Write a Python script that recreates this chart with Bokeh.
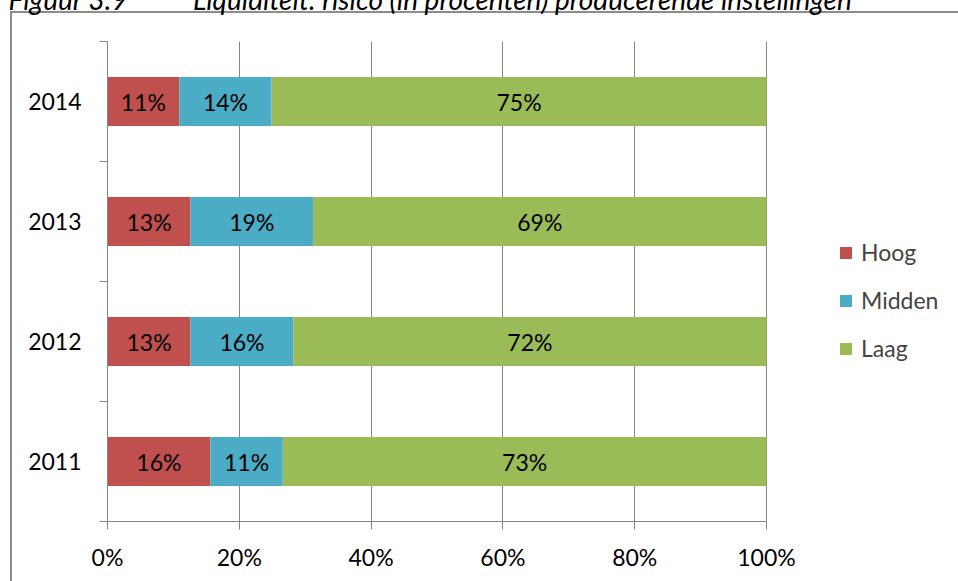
from bokeh.plotting import figure
from bokeh.models import ColumnDataSource, FixedTicker, Legend, LegendItem, Title
from bokeh.core.properties import value
from bokeh.embed import file_html
from bokeh.resources import INLINE

# ---- data (percentages) ----
years = ["2011", "2012", "2013", "2014"]
hoog = [15.6, 12.6, 12.6, 10.9]
midden = [11.0, 15.6, 18.6, 14.0]
laag = [73.4, 71.8, 68.8, 75.1]
series = ["Hoog", "Midden", "Laag"]
colors = ["#C0504D", "#4BACC6", "#9BBB59"]
x_ticks = [0, 20, 40, 60, 80, 100]
x_tick_labels = ["0%", "20%", "40%", "60%", "80%", "100%"]
title_num = "Figuur 3.9"
title_txt = "Liquiditeit: risico (in procenten) producerende instellingen"

FONT = "Lato"
FS = "23px"
GRAY = "#868686"
BOX = "#8c8c8c"

W, H = 958, 581
LEFT, TOP, BOTTOM = 107, 41, 60
AXIS_PX = 659                       # pixel length of 0..100 %
frame_w = W - LEFT
x_end = 100 * frame_w / AXIS_PX     # frame extends to the right to hold the legend

ypos = [i + 0.5 for i in range(len(years))]
data = {"y": ypos, "Hoog": hoog, "Midden": midden, "Laag": laag}
source = ColumnDataSource(data)

p = figure(width=W, height=H, x_range=(0, x_end), y_range=(0, len(years)),
           output_backend="svg", toolbar_location=None,
           min_border_left=LEFT, min_border_right=0,
           min_border_top=TOP, min_border_bottom=BOTTOM)
p.outline_line_color = None
p.background_fill_color = "white"
p.border_fill_alpha = 0
p.styles = {"background":
            f"linear-gradient({BOX},{BOX}) 10px 11px / 2px 100% no-repeat, "
            f"linear-gradient({BOX},{BOX}) 10px 11px / 100% 2px no-repeat, white"}

# title (top part cut off by the page edge, as in the source)
p.title.text = ""
spacer = Title(text="\u00a0", text_font_size="1px", standoff=38)
p.add_layout(spacer, "above")
title = Title(text=title_num + "\u00a0" * 10 + title_txt,
              text_font=FONT, text_font_style="italic", text_font_size="28px",
              text_color="black", align="left", vertical_align="top",
              standoff=-38, offset=-99)
p.add_layout(title, "above")

bars = p.hbar_stack(series, y="y", height=0.41, color=colors, line_color=None,
                    source=source)

# segment labels (rounded half up, as in the source)
cx, cy, lbl = [], [], []
vals = [hoog, midden, laag]
for i in range(len(years)):
    left = 0
    for s in vals:
        v = s[i]
        cx.append(left + v / 2)
        cy.append(ypos[i])
        lbl.append(f"{int(v + 0.5)}%")
        left += v
p.text(x=cx, y=cy, text=lbl, text_align="center", text_baseline="middle",
       text_font=value(FONT), text_font_size=FS, text_color="black")

# x axis
p.xaxis.ticker = FixedTicker(ticks=x_ticks)
p.xaxis.bounds = (0, 100)
p.xaxis.major_label_overrides = {t: l for t, l in zip(x_ticks, x_tick_labels)}
p.xaxis.major_tick_out = 8
p.xaxis.major_tick_in = 0
p.xaxis.minor_tick_line_color = None
p.xaxis.axis_line_color = GRAY
p.xaxis.major_tick_line_color = GRAY
p.xaxis.major_label_text_font = FONT
p.xaxis.major_label_text_font_size = FS
p.xaxis.major_label_text_color = "black"
p.xaxis.major_label_standoff = 13

# y axis
p.yaxis.ticker = FixedTicker(ticks=ypos, minor_ticks=list(range(len(years) + 1)))
p.yaxis.major_label_overrides = {y: t for y, t in zip(ypos, years)}
p.yaxis.major_tick_out = 0
p.yaxis.major_tick_in = 0
p.yaxis.major_tick_line_color = None
p.yaxis.minor_tick_out = 8
p.yaxis.minor_tick_in = 0
p.yaxis.minor_tick_line_color = GRAY
p.yaxis.axis_line_color = GRAY
p.yaxis.major_label_text_font = FONT
p.yaxis.major_label_text_font_size = FS
p.yaxis.major_label_text_color = "black"
p.yaxis.major_label_standoff = 18

p.ygrid.visible = False
p.xgrid.grid_line_color = GRAY

legend = Legend(items=[LegendItem(label=s, renderers=[r]) for s, r in zip(series, bars)],
                location=(731, 158), orientation="vertical",
                glyph_width=15, glyph_height=15, label_height=30,
                label_text_font=FONT, label_text_font_size=FS,
                label_standoff=8, spacing=18, padding=0, margin=0,
                border_line_color=None, background_fill_alpha=0)
p.add_layout(legend)

open("out.html", "w").write(file_html(p, INLINE))
